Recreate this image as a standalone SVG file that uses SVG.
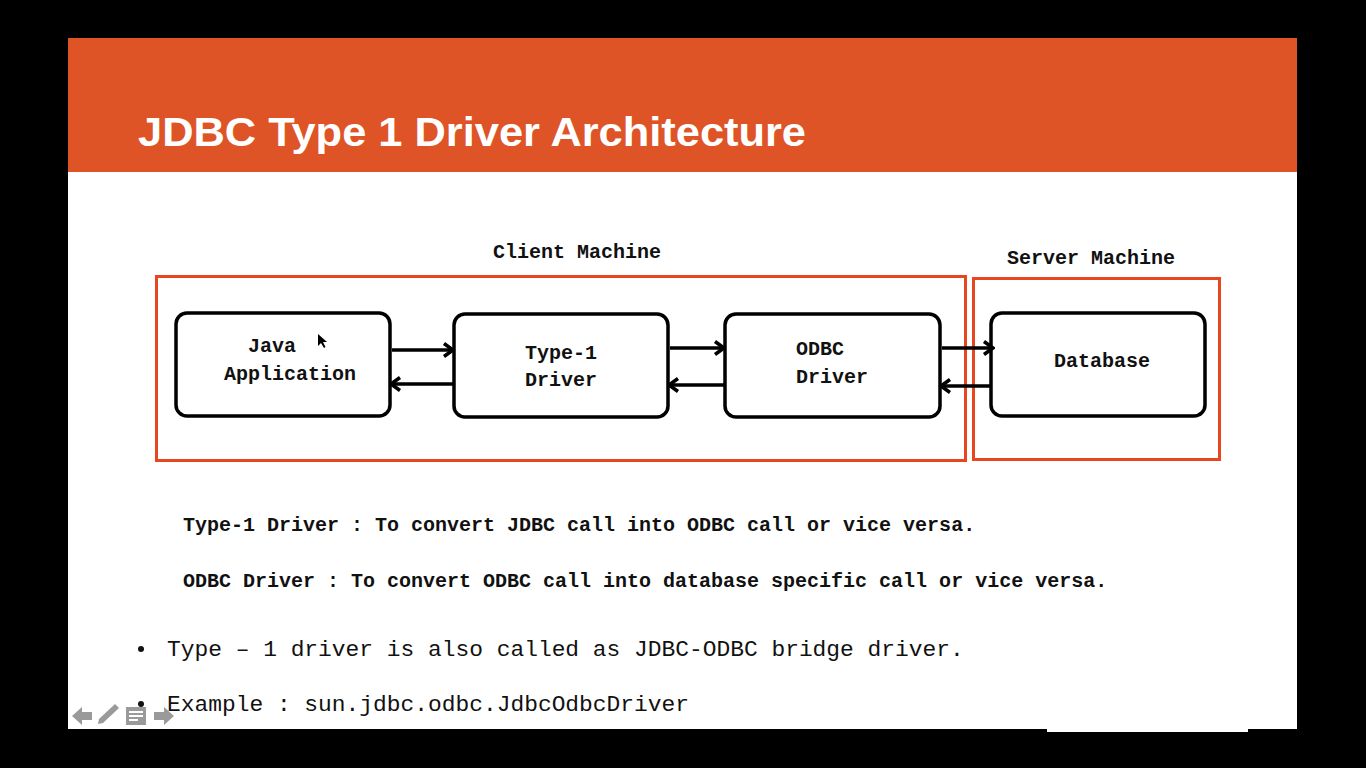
<svg xmlns="http://www.w3.org/2000/svg" width="1366" height="768" viewBox="0 0 1366 768">
<style>
.node rect{fill:#fff;stroke:#000;stroke-width:3.5}
.nt{font-family:"Liberation Mono",monospace;font-weight:bold;font-size:20px;fill:#111}
.lbl{font-family:"Liberation Mono",monospace;font-weight:bold;font-size:20px;fill:#111}
.bul{font-family:"Liberation Mono",monospace;font-size:22.9px;fill:#111}
.frame{fill:none;stroke:#E8461E;stroke-width:3}
.conn line{stroke:#000;stroke-width:3.5}
.ico{fill:#9a9a9a}
</style>
<defs>
<marker id="ah" viewBox="0 0 14 16" refX="12" refY="8" markerWidth="14" markerHeight="16" markerUnits="userSpaceOnUse" orient="auto">
<polyline points="3,1.5 12,8 3,14.5" fill="none" stroke="#000" stroke-width="3.5"/>
</marker>
</defs>
<rect width="1366" height="768" fill="#000"/>
<rect x="68" y="38" width="1229" height="691" fill="#fff"/>
<rect x="1047" y="729" width="201" height="3" fill="#fff"/>
<rect x="68" y="38" width="1229" height="134" fill="#DE5426"/>
<text x="138" y="146" font-family="'Liberation Sans',Arial,sans-serif" font-weight="bold" font-size="41" fill="#fff" textLength="668" lengthAdjust="spacingAndGlyphs">JDBC Type 1 Driver Architecture</text>

<g id="client-machine">
<rect class="frame" x="156.5" y="276.5" width="809" height="184"/>
<text class="lbl" x="577" y="258" text-anchor="middle">Client Machine</text>
</g>
<g id="server-machine">
<rect class="frame" x="973.5" y="278.5" width="246" height="181"/>
<text class="lbl" x="1091" y="264" text-anchor="middle">Server Machine</text>
</g>

<g id="java-app" class="node">
<rect x="176" y="313" width="214" height="103" rx="11"/>
<text class="nt" x="272" y="352" text-anchor="middle">Java</text>
<text class="nt" x="290" y="380" text-anchor="middle">Application</text>
</g>
<g id="type1-driver" class="node">
<rect x="454" y="314" width="214" height="103" rx="11"/>
<text class="nt" x="561" y="359" text-anchor="middle">Type-1</text>
<text class="nt" x="561" y="386" text-anchor="middle">Driver</text>
</g>
<g id="odbc-driver" class="node">
<rect x="725" y="314" width="215" height="103" rx="11"/>
<text class="nt" x="796" y="355">ODBC</text>
<text class="nt" x="796" y="383">Driver</text>
</g>
<g id="database" class="node">
<rect x="991" y="313" width="214" height="103" rx="11"/>
<text class="nt" x="1102" y="367" text-anchor="middle">Database</text>
</g>

<g id="connectors" class="conn">
<line x1="392" y1="350" x2="453" y2="350" marker-end="url(#ah)"/>
<line x1="454" y1="384" x2="391" y2="384" marker-end="url(#ah)"/>
<line x1="670" y1="348" x2="724" y2="348" marker-end="url(#ah)"/>
<line x1="725" y1="385" x2="669" y2="385" marker-end="url(#ah)"/>
<line x1="942" y1="348" x2="993" y2="348" marker-end="url(#ah)"/>
<line x1="991" y1="386" x2="941" y2="386" marker-end="url(#ah)"/>
</g>

<polygon points="318,334 318,346 321,343 324,348 325.5,347 323,342 327,342" fill="#000"/>

<text class="lbl" x="183" y="531">Type-1 Driver : To convert JDBC call into ODBC call or vice versa.</text>
<text class="lbl" x="183" y="587">ODBC Driver : To convert ODBC call into database specific call or vice versa.</text>

<circle cx="141" cy="649" r="3" fill="#111"/>
<text class="bul" x="167" y="656">Type – 1 driver is also called as JDBC-ODBC bridge driver.</text>
<circle cx="141" cy="704" r="3" fill="#111"/>
<text class="bul" x="167" y="711">Example : sun.jdbc.odbc.JdbcOdbcDriver</text>

<g id="toolbar">
<polygon class="ico" points="72,716 82,707 82,712 92,712 92,720 82,720 82,725"/>
<polygon class="ico" points="98,724 99,719 115,704 119,708 103,723"/>
<rect class="ico" x="126" y="707" width="20" height="18"/>
<rect x="129" y="711" width="14" height="2" fill="#fff"/>
<rect x="129" y="715" width="14" height="2" fill="#fff"/>
<rect x="129" y="719" width="9" height="2" fill="#fff"/>
<polygon class="ico" points="174,716 164,707 164,712 154,712 154,720 164,720 164,725"/>
</g>
</svg>
